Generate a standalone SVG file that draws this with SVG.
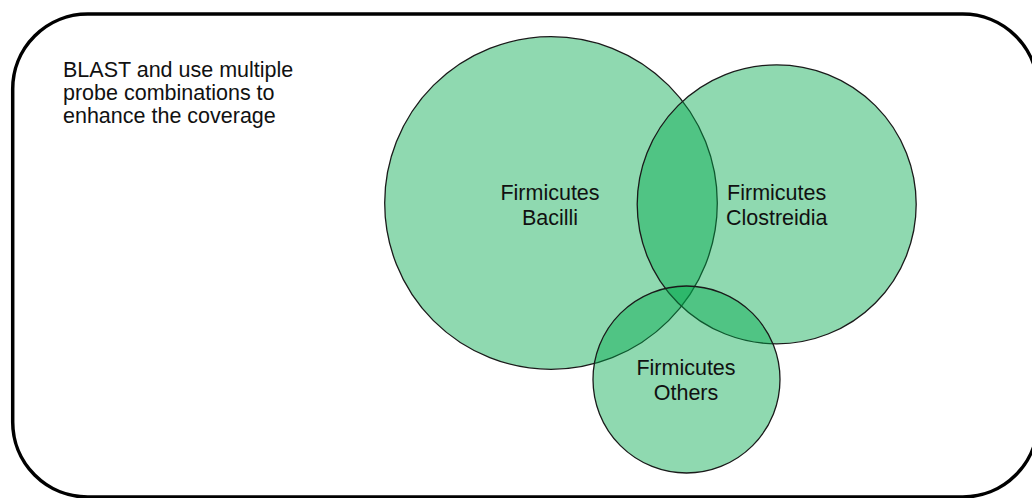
<svg xmlns="http://www.w3.org/2000/svg" width="1032" height="498" viewBox="0 0 1032 498">
  <style>
    .frame { fill: #ffffff; stroke: #000000; stroke-width: 3.5; }
    .set { fill: #00a84a; fill-opacity: 0.44; stroke: #1a1a1a; stroke-width: 1.3; }
    .lbl { font-family: "Liberation Sans", Arial, sans-serif; font-size: 21.5px; fill: #111111; }
    .mid { text-anchor: middle; }
  </style>
  <rect width="1032" height="498" fill="#ffffff"/>
  <g id="frame">
    <rect class="frame" x="12.7" y="14" width="1025" height="483" rx="75" ry="75"/>
  </g>
  <g id="note">
    <text class="lbl" x="63" y="77">BLAST and use multiple</text>
    <text class="lbl" x="63" y="100">probe combinations to</text>
    <text class="lbl" x="63" y="123">enhance the coverage</text>
  </g>
  <g id="connectors"></g>
  <g id="bacilli">
    <circle class="set" cx="551" cy="203" r="166.3"/>
  </g>
  <g id="clostridia">
    <circle class="set" cx="776.7" cy="204.3" r="139.5"/>
  </g>
  <g id="others">
    <circle class="set" cx="686.5" cy="379.5" r="93.5"/>
  </g>
  <g id="labels">
    <text class="lbl mid" x="550" y="200">Firmicutes</text>
    <text class="lbl mid" x="550" y="225">Bacilli</text>
    <text class="lbl mid" x="776.7" y="200">Firmicutes</text>
    <text class="lbl mid" x="776.7" y="225">Clostreidia</text>
    <text class="lbl mid" x="686" y="374.5">Firmicutes</text>
    <text class="lbl mid" x="686" y="400">Others</text>
  </g>
</svg>
